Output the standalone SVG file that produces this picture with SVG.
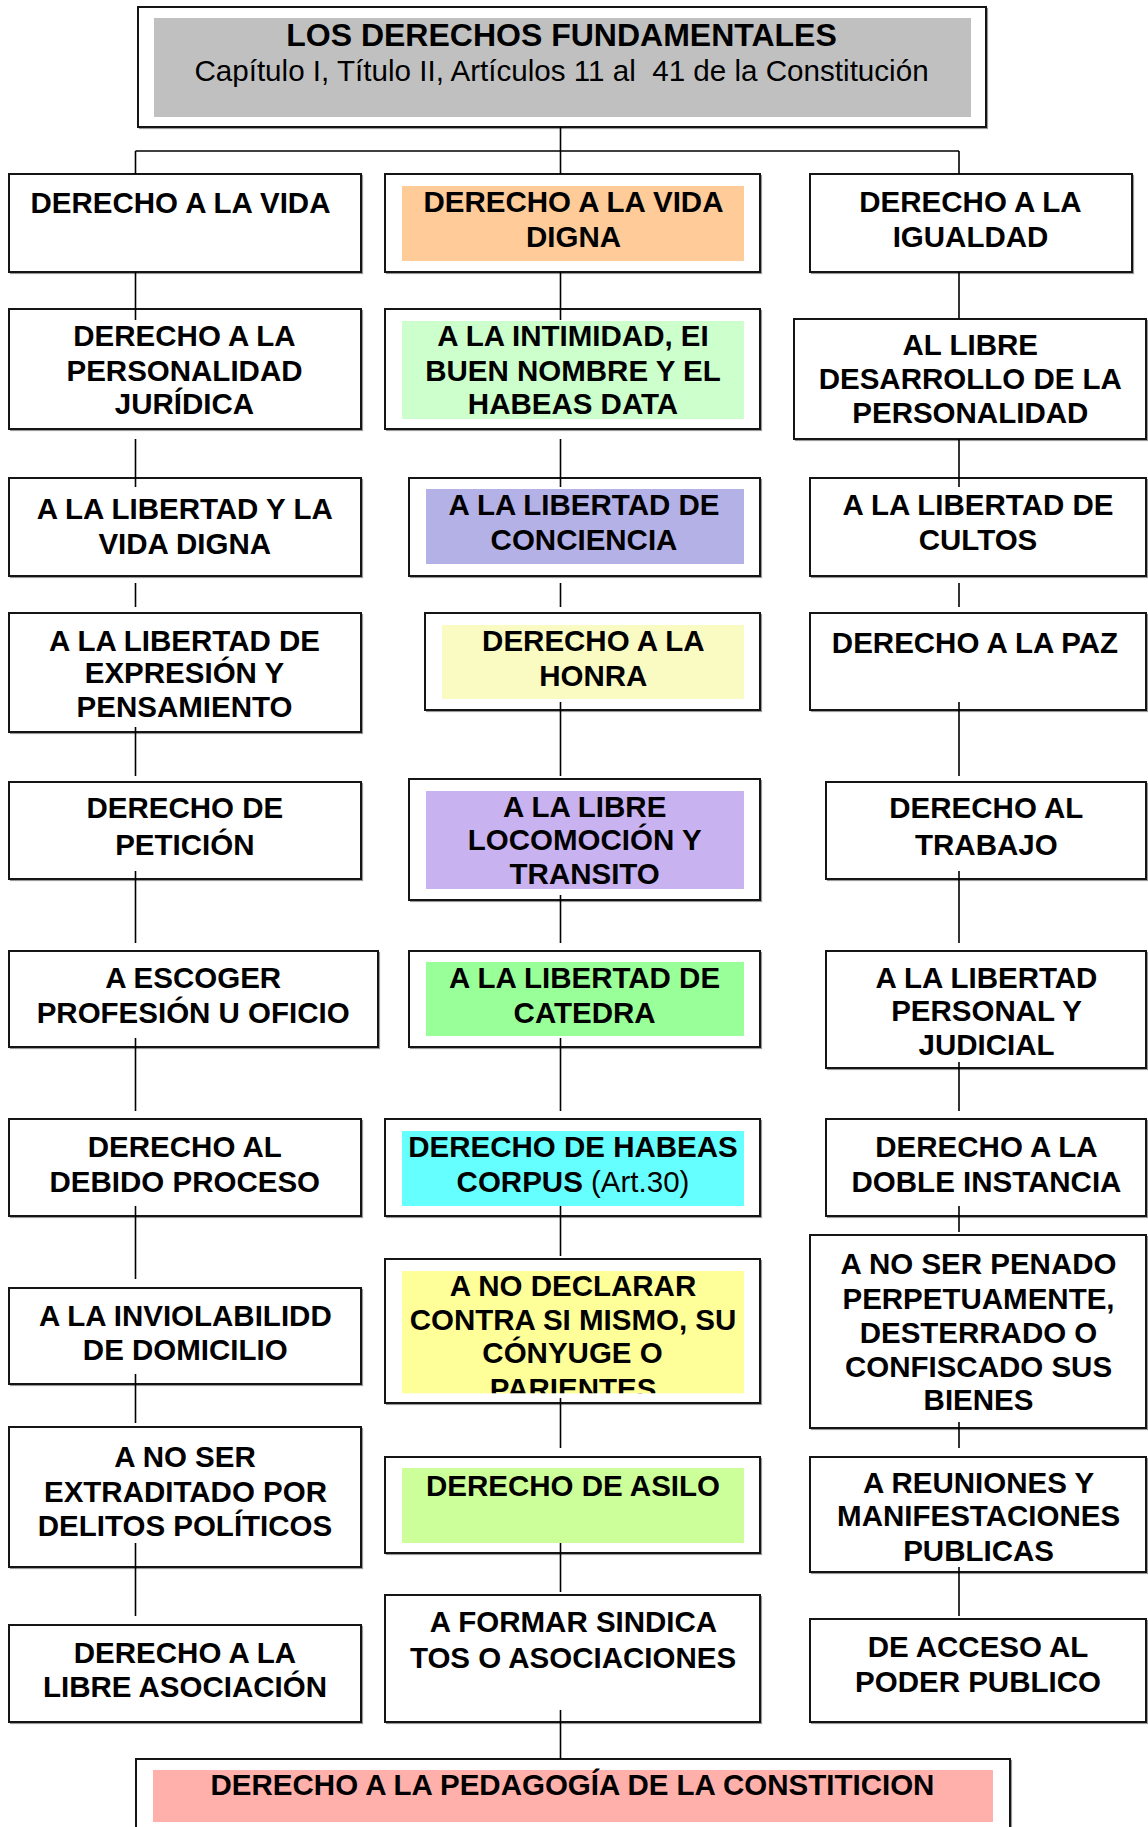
<svg xmlns="http://www.w3.org/2000/svg" width="1148" height="1827" viewBox="0 0 1148 1827">
<style>
.bx{fill:#fff;stroke:#151515;stroke-width:2}
.sh{fill:none;stroke:#9a9a9a;stroke-width:1.2}
.t{font-family:"Liberation Sans",Arial,sans-serif;font-weight:bold;font-size:29.5px;text-anchor:middle;fill:#000}
.n{font-weight:normal}
.conn line{stroke:#000;stroke-width:1.6}
</style>
<defs>
<clipPath id="clipDecl"><rect x="402" y="1271" width="342" height="122.3"/></clipPath>
</defs>
<rect width="1148" height="1827" fill="#fff"/>

<g id="title">
<rect class="sh" x="139.5" y="8.5" width="848" height="120"/>
<rect class="bx" x="138" y="7" width="848" height="120"/>
<rect x="154" y="18" width="817" height="99" fill="#C0C0C0"/>
<text class="t" x="561.5" y="46" style="font-size:32px">LOS DERECHOS FUNDAMENTALES</text>
<text class="t n" x="561.5" y="81" style="font-size:29.6px">Capítulo I, Título II, Artículos 11 al&#160; 41 de la Constitución</text>
</g>

<!-- Row 1 -->
<g id="n-vida">
<rect class="sh" x="10.5" y="175.5" width="352" height="98"/>
<rect class="bx" x="9" y="174" width="352" height="98"/>
<text class="t" x="180.5" y="213">DERECHO A LA VIDA</text>
</g>
<g id="n-vida-digna">
<rect class="sh" x="386.5" y="175.5" width="375" height="98"/>
<rect class="bx" x="385" y="174" width="375" height="98"/>
<rect x="402" y="186" width="342" height="75" fill="#FFCC99"/>
<text class="t" x="573.5" y="211.7">DERECHO A LA VIDA</text>
<text class="t" x="573.5" y="247.3">DIGNA</text>
</g>
<g id="n-igualdad">
<rect class="sh" x="811.5" y="175.5" width="322" height="98"/>
<rect class="bx" x="810" y="174" width="322" height="98"/>
<text class="t" x="970.5" y="211.7">DERECHO A LA</text>
<text class="t" x="970.5" y="247.3">IGUALDAD</text>
</g>

<!-- Row 2 -->
<g id="n-personalidad-juridica">
<rect class="sh" x="10.5" y="310.5" width="352" height="120"/>
<rect class="bx" x="9" y="309" width="352" height="120"/>
<text class="t" x="184.5" y="346">DERECHO A LA</text>
<text class="t" x="184.5" y="380.7">PERSONALIDAD</text>
<text class="t" x="184.5" y="414">JURÍDICA</text>
</g>
<g id="n-intimidad">
<rect class="sh" x="386.5" y="310.5" width="375" height="120"/>
<rect class="bx" x="385" y="309" width="375" height="120"/>
<rect x="402" y="321" width="342" height="98" fill="#CCFFCC"/>
<text class="t" x="573" y="346">A LA INTIMIDAD, EI</text>
<text class="t" x="573" y="380.7">BUEN NOMBRE Y EL</text>
<text class="t" x="573" y="414">HABEAS DATA</text>
</g>
<g id="n-libre-desarrollo">
<rect class="sh" x="795.5" y="320.5" width="352" height="120"/>
<rect class="bx" x="794" y="319" width="352" height="120"/>
<text class="t" x="970.3" y="355.3">AL LIBRE</text>
<text class="t" x="970.3" y="389.3">DESARROLLO DE LA</text>
<text class="t" x="970.3" y="423.3">PERSONALIDAD</text>
</g>

<!-- Row 3 -->
<g id="n-libertad-vida-digna">
<rect class="sh" x="10.5" y="479.5" width="352" height="98"/>
<rect class="bx" x="9" y="478" width="352" height="98"/>
<text class="t" x="184.7" y="519.3">A LA LIBERTAD Y LA</text>
<text class="t" x="184.7" y="554">VIDA DIGNA</text>
</g>
<g id="n-conciencia">
<rect class="sh" x="410.5" y="479.5" width="351" height="98"/>
<rect class="bx" x="409" y="478" width="351" height="98"/>
<rect x="426" y="489" width="318" height="75" fill="#B4B1E7"/>
<text class="t" x="584" y="515.3">A LA LIBERTAD DE</text>
<text class="t" x="584" y="550">CONCIENCIA</text>
</g>
<g id="n-cultos">
<rect class="sh" x="811.5" y="479.5" width="336" height="98"/>
<rect class="bx" x="810" y="478" width="336" height="98"/>
<text class="t" x="978" y="515.3">A LA LIBERTAD DE</text>
<text class="t" x="978" y="550">CULTOS</text>
</g>

<!-- Row 4 -->
<g id="n-expresion">
<rect class="sh" x="10.5" y="614.5" width="352" height="119"/>
<rect class="bx" x="9" y="613" width="352" height="119"/>
<text class="t" x="184.5" y="650.7">A LA LIBERTAD DE</text>
<text class="t" x="184.5" y="683.3">EXPRESIÓN Y</text>
<text class="t" x="184.5" y="717.3">PENSAMIENTO</text>
</g>
<g id="n-honra">
<rect class="sh" x="426.5" y="614.5" width="335" height="97"/>
<rect class="bx" x="425" y="613" width="335" height="97"/>
<rect x="442" y="625" width="302" height="74" fill="#FAFBC2"/>
<text class="t" x="593.3" y="650.7">DERECHO A LA</text>
<text class="t" x="593.3" y="686">HONRA</text>
</g>
<g id="n-paz">
<rect class="sh" x="811.5" y="614.5" width="336" height="97"/>
<rect class="bx" x="810" y="613" width="336" height="97"/>
<text class="t" x="975" y="653.3">DERECHO A LA PAZ</text>
</g>

<!-- Row 5 -->
<g id="n-peticion">
<rect class="sh" x="10.5" y="783.5" width="352" height="97"/>
<rect class="bx" x="9" y="782" width="352" height="97"/>
<text class="t" x="184.8" y="818.3">DERECHO DE</text>
<text class="t" x="184.8" y="855">PETICIÓN</text>
</g>
<g id="n-locomocion">
<rect class="sh" x="410.5" y="780.5" width="351" height="121"/>
<rect class="bx" x="409" y="779" width="351" height="121"/>
<rect x="426" y="791" width="318" height="98" fill="#C8B2F0"/>
<text class="t" x="584.7" y="816.7">A LA LIBRE</text>
<text class="t" x="584.7" y="850">LOCOMOCIÓN Y</text>
<text class="t" x="584.7" y="884">TRANSITO</text>
</g>
<g id="n-trabajo">
<rect class="sh" x="827.5" y="783.5" width="320" height="97"/>
<rect class="bx" x="826" y="782" width="320" height="97"/>
<text class="t" x="986.3" y="818.3">DERECHO AL</text>
<text class="t" x="986.3" y="855">TRABAJO</text>
</g>

<!-- Row 6 -->
<g id="n-profesion">
<rect class="sh" x="10.5" y="952.5" width="369" height="96"/>
<rect class="bx" x="9" y="951" width="369" height="96"/>
<text class="t" x="193.2" y="987.7">A ESCOGER</text>
<text class="t" x="193.2" y="1023.3">PROFESIÓN U OFICIO</text>
</g>
<g id="n-catedra">
<rect class="sh" x="410.5" y="952.5" width="351" height="96"/>
<rect class="bx" x="409" y="951" width="351" height="96"/>
<rect x="426" y="962" width="318" height="74" fill="#99FF99"/>
<text class="t" x="584.6" y="987.7">A LA LIBERTAD DE</text>
<text class="t" x="584.6" y="1023.3">CATEDRA</text>
</g>
<g id="n-libertad-personal">
<rect class="sh" x="827.5" y="952.5" width="320" height="117"/>
<rect class="bx" x="826" y="951" width="320" height="117"/>
<text class="t" x="986.5" y="987.7">A LA LIBERTAD</text>
<text class="t" x="986.5" y="1021">PERSONAL Y</text>
<text class="t" x="986.5" y="1055.3">JUDICIAL</text>
</g>

<!-- Row 7 -->
<g id="n-debido-proceso">
<rect class="sh" x="10.5" y="1120.5" width="352" height="97"/>
<rect class="bx" x="9" y="1119" width="352" height="97"/>
<text class="t" x="184.8" y="1156.7">DERECHO AL</text>
<text class="t" x="184.8" y="1192.3">DEBIDO PROCESO</text>
</g>
<g id="n-habeas-corpus">
<rect class="sh" x="386.5" y="1120.5" width="375" height="97"/>
<rect class="bx" x="385" y="1119" width="375" height="97"/>
<rect x="402" y="1131" width="342" height="75" fill="#66FFFF"/>
<text class="t" x="573" y="1156.7">DERECHO DE HABEAS</text>
<text class="t" x="573" y="1192.3">CORPUS <tspan class="n">(Art.30)</tspan></text>
</g>
<g id="n-doble-instancia">
<rect class="sh" x="827.5" y="1120.5" width="320" height="97"/>
<rect class="bx" x="826" y="1119" width="320" height="97"/>
<text class="t" x="986.5" y="1156.7">DERECHO A LA</text>
<text class="t" x="986.5" y="1192.3">DOBLE INSTANCIA</text>
</g>

<!-- Row 8 -->
<g id="n-domicilio">
<rect class="sh" x="10.5" y="1289.5" width="352" height="96"/>
<rect class="bx" x="9" y="1288" width="352" height="96"/>
<text class="t" x="185.3" y="1325.7">A LA INVIOLABILIDD</text>
<text class="t" x="185.3" y="1360">DE DOMICILIO</text>
</g>
<g id="n-no-declarar">
<rect class="sh" x="386.5" y="1260.5" width="375" height="144"/>
<rect class="bx" x="385" y="1259" width="375" height="144"/>
<rect x="402" y="1271" width="342" height="122.3" fill="#FFFF99"/>
<text class="t" x="573" y="1296">A NO DECLARAR</text>
<text class="t" x="573" y="1330">CONTRA SI MISMO, SU</text>
<text class="t" x="572.5" y="1363.3">CÓNYUGE O</text>
<text class="t" x="573" y="1398.5" clip-path="url(#clipDecl)">PARIENTES</text>
</g>
<g id="n-no-penado">
<rect class="sh" x="811.5" y="1236.5" width="336" height="193"/>
<rect class="bx" x="810" y="1235" width="336" height="193"/>
<text class="t" x="978.5" y="1274">A NO SER PENADO</text>
<text class="t" x="978.5" y="1308.5">PERPETUAMENTE,</text>
<text class="t" x="978.5" y="1343.3">DESTERRADO O</text>
<text class="t" x="978.5" y="1376.7">CONFISCADO SUS</text>
<text class="t" x="978.5" y="1410">BIENES</text>
</g>

<!-- Row 9 -->
<g id="n-extraditado">
<rect class="sh" x="10.5" y="1428.5" width="352" height="140"/>
<rect class="bx" x="9" y="1427" width="352" height="140"/>
<text class="t" x="185" y="1466.7">A NO SER</text>
<text class="t" x="185.5" y="1501.7">EXTRADITADO POR</text>
<text class="t" x="185" y="1536">DELITOS POLÍTICOS</text>
</g>
<g id="n-asilo">
<rect class="sh" x="386.5" y="1458.5" width="375" height="96"/>
<rect class="bx" x="385" y="1457" width="375" height="96"/>
<rect x="402" y="1468" width="342" height="75" fill="#CCFF99"/>
<text class="t" x="573" y="1496">DERECHO DE ASILO</text>
</g>
<g id="n-reuniones">
<rect class="sh" x="811.5" y="1458.5" width="336" height="115"/>
<rect class="bx" x="810" y="1457" width="336" height="115"/>
<text class="t" x="978.6" y="1492.7">A REUNIONES Y</text>
<text class="t" x="978.6" y="1526">MANIFESTACIONES</text>
<text class="t" x="978.6" y="1561">PUBLICAS</text>
</g>

<!-- Row 10 -->
<g id="n-libre-asociacion">
<rect class="sh" x="10.5" y="1626.5" width="352" height="97"/>
<rect class="bx" x="9" y="1625" width="352" height="97"/>
<text class="t" x="185" y="1662.7">DERECHO A LA</text>
<text class="t" x="185" y="1696.7">LIBRE ASOCIACIÓN</text>
</g>
<g id="n-sindicatos">
<rect class="sh" x="386.5" y="1596.5" width="375" height="127"/>
<rect class="bx" x="385" y="1595" width="375" height="127"/>
<text class="t" x="573.5" y="1631.7">A FORMAR SINDICA</text>
<text class="t" x="573" y="1668.3">TOS O ASOCIACIONES</text>
</g>
<g id="n-poder-publico">
<rect class="sh" x="811.5" y="1620.5" width="336" height="103"/>
<rect class="bx" x="810" y="1619" width="336" height="103"/>
<text class="t" x="978" y="1656.7">DE ACCESO AL</text>
<text class="t" x="978" y="1691.7">PODER PUBLICO</text>
</g>

<!-- Bottom -->
<g id="n-pedagogia">
<rect class="sh" x="137.5" y="1760.5" width="874" height="100"/>
<rect class="bx" x="136" y="1759" width="874" height="100"/>
<rect x="153" y="1770" width="840" height="52" fill="#FFB0AA"/>
<text class="t" x="572.5" y="1795">DERECHO A LA PEDAGOGÍA DE LA CONSTITICION</text>
</g>

<g id="connectors" class="conn">
<line x1="560.5" y1="127" x2="560.5" y2="174"/>
<line x1="135.5" y1="151" x2="959" y2="151"/>
<line x1="135.5" y1="151" x2="135.5" y2="174"/>
<line x1="959" y1="151" x2="959" y2="174"/>

<line x1="135.5" y1="272" x2="135.5" y2="320"/>
<line x1="135.5" y1="439" x2="135.5" y2="487"/>
<line x1="135.5" y1="583" x2="135.5" y2="607"/>
<line x1="135.5" y1="727" x2="135.5" y2="776"/>
<line x1="135.5" y1="871" x2="135.5" y2="943"/>
<line x1="135.5" y1="1038" x2="135.5" y2="1111"/>
<line x1="135.5" y1="1206" x2="135.5" y2="1279"/>
<line x1="135.5" y1="1374" x2="135.5" y2="1423"/>
<line x1="135.5" y1="1543" x2="135.5" y2="1616"/>

<line x1="560.5" y1="272" x2="560.5" y2="320"/>
<line x1="560.5" y1="439" x2="560.5" y2="487"/>
<line x1="560.5" y1="583" x2="560.5" y2="607"/>
<line x1="560.5" y1="702" x2="560.5" y2="776"/>
<line x1="560.5" y1="895" x2="560.5" y2="943"/>
<line x1="560.5" y1="1038" x2="560.5" y2="1111"/>
<line x1="560.5" y1="1206" x2="560.5" y2="1256"/>
<line x1="560.5" y1="1398" x2="560.5" y2="1448"/>
<line x1="560.5" y1="1543" x2="560.5" y2="1592"/>
<line x1="560.5" y1="1710" x2="560.5" y2="1759"/>

<line x1="959" y1="272" x2="959" y2="318"/>
<line x1="959" y1="439" x2="959" y2="487"/>
<line x1="959" y1="583" x2="959" y2="607"/>
<line x1="959" y1="702" x2="959" y2="776"/>
<line x1="959" y1="871" x2="959" y2="943"/>
<line x1="959" y1="1062" x2="959" y2="1111"/>
<line x1="959" y1="1206" x2="959" y2="1232"/>
<line x1="959" y1="1422" x2="959" y2="1448"/>
<line x1="959" y1="1567" x2="959" y2="1616"/>
</g>
</svg>
